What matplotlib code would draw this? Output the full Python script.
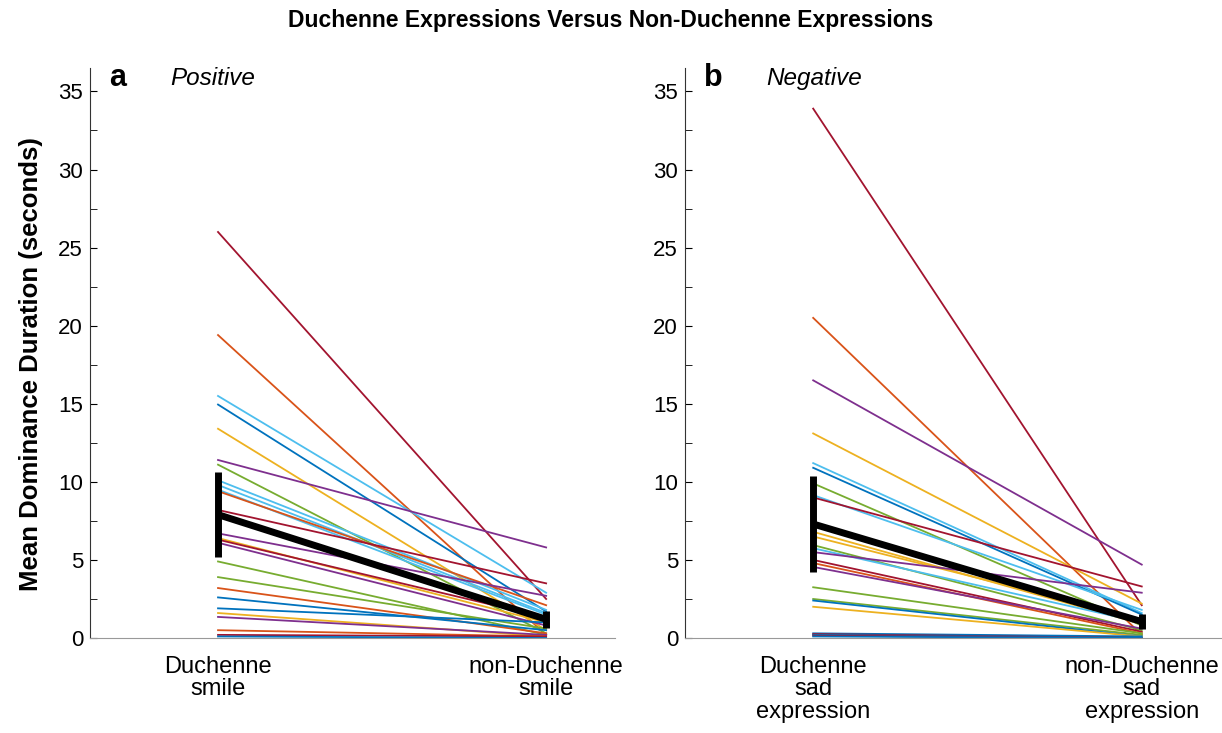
import numpy as np
import matplotlib
matplotlib.use("Agg")
import matplotlib.pyplot as plt
from matplotlib.ticker import MultipleLocator

plt.rcParams['font.family'] = ['Liberation Sans', 'DejaVu Sans']

# matlab default line colours
blue, orange, yellow, purple = "#0072BD", "#D95319", "#EDB120", "#7E2F8E"
green, lblue, dred = "#77AC30", "#4DBEEE", "#A2142F"

# panel a: Duchenne smile vs non-Duchenne smile (seconds)
pos_duchenne = [26.0, 19.4, 15.5, 14.95, 13.4, 11.4, 11.1, 10.1, 9.8, 9.5, 9.4, 8.2, 6.7,
                6.4, 6.3, 6.1, 4.9, 3.9, 3.2, 2.6, 1.9, 1.6, 1.35, 0.5, 0.2, 0.1]
pos_non = [2.5, 0.2, 2.9, 1.7, 0.5, 5.8, 0.3, 1.8, 1.6, 1.5, 2.1, 3.5, 2.7,
           1.0, 1.3, 0.8, 0.2, 0.6, 0.3, 0.5, 1.0, 0.1, 0.2, 0.1, 0.1, 0.0]
pos_colors = [dred, orange, lblue, blue, yellow, purple, green, lblue, lblue, lblue, orange, dred, purple,
              yellow, dred, purple, green, green, orange, blue, blue, yellow, purple, orange, dred, blue]
pos_mean = [7.9, 1.2]
pos_err = [2.7, 0.55]

# panel b: Duchenne sad vs non-Duchenne sad expression
neg_duchenne = [33.9, 20.5, 16.5, 13.1, 11.2, 10.9, 9.9, 9.15, 9.0, 6.8, 6.5, 5.95, 5.75,
                5.5, 5.0, 4.8, 4.55, 3.25, 2.5, 2.4, 2.0, 0.3, 0.25, 0.2, 0.15, 0.1]
neg_non = [2.1, 0.2, 4.7, 2.2, 1.6, 1.5, 0.8, 1.8, 3.3, 0.9, 1.2, 0.5, 1.0,
           2.9, 0.4, 0.3, 0.6, 0.3, 0.2, 0.1, 0.1, 0.1, 0.0, 0.0, 0.0, 0.0]
neg_colors = [dred, orange, purple, yellow, lblue, blue, green, lblue, dred, yellow, yellow, green, lblue,
              purple, dred, orange, purple, green, green, blue, yellow, blue, dred, blue, dred, blue]
neg_mean = [7.3, 1.05]
neg_err = [3.1, 0.5]

pos_labels = ["Duchenne\nsmile", "non-Duchenne\nsmile"]
neg_labels = ["Duchenne\nsad\nexpression", "non-Duchenne\nsad\nexpression"]

fig = plt.figure(figsize=(12.22, 7.33), dpi=100)
ax1 = fig.add_axes([0.0737, 0.1296, 0.4296, 0.7776])
ax2 = fig.add_axes([0.5606, 0.1296, 0.4396, 0.7776])


def panel(ax, d, nd, cols, m, e, labels, letter, name, right):
    for a, b, c in zip(d, nd, cols):
        ax.plot([1, 2], [a, b], color=c, lw=1.3)
    ax.plot([1, 2], m, color="black", lw=5, solid_capstyle="butt")
    for x, mm, ee in zip([1, 2], m, e):
        ax.plot([x, x], [mm - ee, mm + ee], color="black", lw=5, solid_capstyle="butt")
    ax.set_xlim(0.61, right)
    ax.set_ylim(0, 36.5)
    ax.yaxis.set_major_locator(MultipleLocator(5))
    ax.yaxis.set_minor_locator(MultipleLocator(2.5))
    ax.set_xticks([1, 2])
    ax.set_xticklabels(labels, fontsize=17, linespacing=1.02)
    ax.tick_params(axis="x", length=0, pad=13)
    ax.tick_params(axis="y", which="major", direction="in", length=5, labelsize=16, pad=5)
    ax.tick_params(axis="y", which="minor", direction="in", length=5)
    for s in ["top", "right"]:
        ax.spines[s].set_visible(False)
    ax.spines["left"].set_color("#333333")
    ax.spines["bottom"].set_color("#999999")
    ax.text(0.036, 0.982, letter, transform=ax.transAxes, fontsize=22, fontweight="bold",
            ha="left", va="center")
    ax.text(0.152, 0.982, name, transform=ax.transAxes, fontsize=17.5, style="italic",
            ha="left", va="center")


panel(ax1, pos_duchenne, pos_non, pos_colors, pos_mean, pos_err, pos_labels, "a", "Positive", 2.21)
panel(ax2, neg_duchenne, neg_non, neg_colors, neg_mean, neg_err, neg_labels, "b", "Negative", 2.245)

ax1.set_ylabel("Mean Dominance Duration (seconds)", fontsize=18.5, fontweight="bold")
ax1.yaxis.set_label_coords(-0.09, 0.48)
fig.text(0.5, 0.972, "Duchenne Expressions Versus Non-Duchenne Expressions", ha="center",
         va="center", fontsize=16.5, fontweight="bold")

fig.savefig("out.png", dpi=100)
